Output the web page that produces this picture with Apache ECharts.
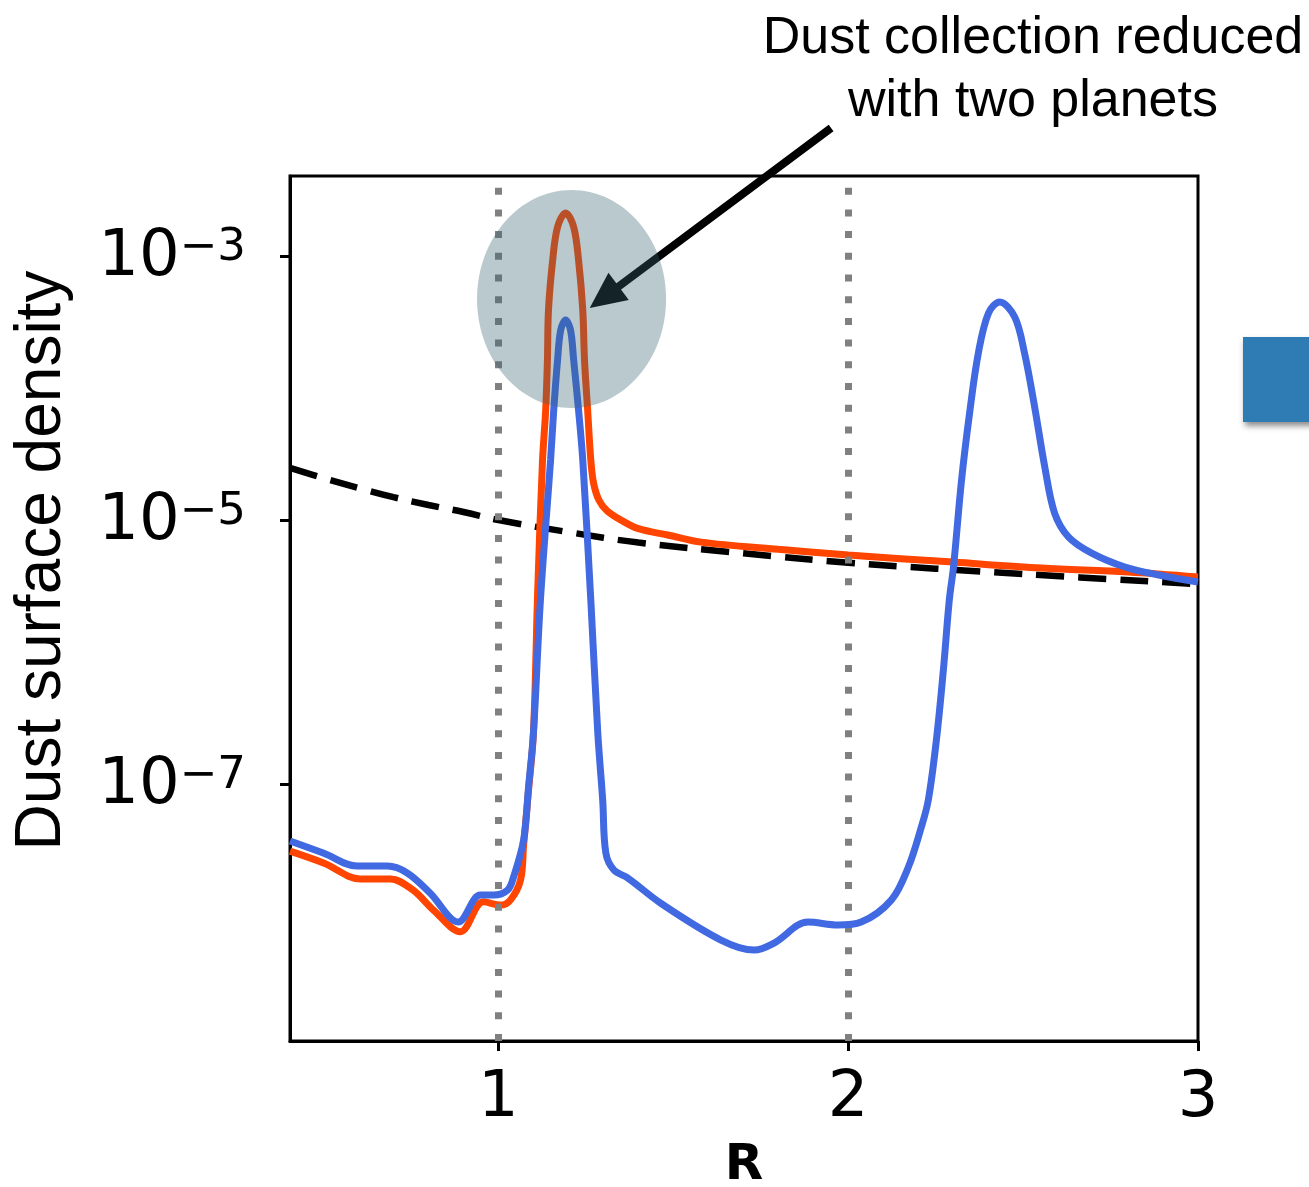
<!DOCTYPE html>
<html>
<head>
<meta charset="utf-8">
<script src="https://cdn.jsdelivr.net/npm/echarts@6/dist/echarts.min.js"></script>
<style>
  html, body { margin: 0; padding: 0; background: #ffffff; overflow: hidden; }
  #chart { width: 1309px; height: 1187px; }
</style>
</head>
<body>
<div id="chart"></div>
<script>
// ---- Data -----------------------------------------------------------------
// Dust surface density profiles versus radius R.

// Single planet at R = 1 (orange)
const onePlanetR = [0.404, 0.50, 0.605, 0.691, 0.756, 0.814, 0.891, 0.957, 1.006, 1.034,
  1.063, 1.072, 1.086, 1.100, 1.112, 1.126, 1.135, 1.140, 1.143, 1.155, 1.169, 1.192,
  1.215, 1.229, 1.241, 1.246, 1.255, 1.264, 1.272, 1.287, 1.310, 1.350, 1.400,
  1.484, 1.579, 1.80, 2.00, 2.30, 2.553, 2.80, 3.00];
const onePlanetSigma = [3.1e-8, 2.52e-8, 1.91e-8, 1.91e-8, 1.57e-8, 1.11e-8, 7.6e-9, 1.28e-8, 1.21e-8, 1.32e-8,
  1.87e-8, 3.45e-8, 9.0e-8, 2.43e-7, 2.8e-6, 2.85e-5, 6.8e-5, 1.63e-4, 3.9e-4, 9.3e-4, 1.66e-3, 2.12e-3,
  1.66e-3, 9.3e-4, 3.9e-4, 1.63e-4, 6.8e-5, 2.85e-5, 1.9e-5, 1.42e-5, 1.18e-5, 1.0e-5, 8.6e-6,
  7.7e-6, 6.8e-6, 6.0e-6, 5.43e-6, 4.8e-6, 4.33e-6, 4.04e-6, 3.7e-6];

// Two planets at R = 1 and R = 2 (blue)
const twoPlanetR = [0.404, 0.499, 0.596, 0.682, 0.739, 0.805, 0.885, 0.948, 0.986, 1.026,
  1.043, 1.072, 1.086, 1.100, 1.120, 1.149, 1.158, 1.169, 1.178, 1.192, 1.206, 1.215,
  1.229, 1.241, 1.264, 1.284, 1.298, 1.307, 1.330, 1.370, 1.464, 1.636, 1.731, 1.788,
  1.885, 1.971, 2.037, 2.123, 2.172, 2.209, 2.229, 2.252, 2.272, 2.289, 2.301, 2.324,
  2.347, 2.372, 2.401, 2.433, 2.476, 2.504, 2.533, 2.562, 2.590, 2.630, 2.696, 2.791,
  2.888, 3.00];
const twoPlanetSigma = [3.7e-8, 3.0e-8, 2.39e-8, 2.39e-8, 2.12e-8, 1.49e-8, 9.0e-9, 1.44e-8, 1.44e-8, 1.57e-8,
  1.97e-8, 3.77e-8, 9.5e-8, 2.43e-7, 2.48e-6, 2.85e-5, 6.8e-5, 1.63e-4, 2.75e-4, 3.27e-4, 2.75e-4, 1.63e-4,
  6.8e-5, 2.85e-5, 2.48e-6, 2.43e-7, 7.57e-8, 3.0e-8, 2.23e-8, 1.94e-8, 1.25e-8, 6.58e-9, 5.52e-9, 6.24e-9,
  9.0e-9, 8.55e-9, 9.0e-9, 1.32e-8, 2.35e-8, 4.72e-8, 7.57e-8, 2.15e-7, 7.31e-7, 2.48e-6, 4.41e-6, 2.01e-5,
  6.47e-5, 1.84e-4, 3.70e-4, 4.49e-4, 3.45e-4, 1.84e-4, 7.18e-5, 2.52e-5, 1.13e-5, 7.43e-6, 5.62e-6, 4.41e-6,
  3.83e-6, 3.39e-6];

// Initial profile (black dashed)
const initialR = [0.404, 0.5, 0.6, 0.7, 0.8, 0.9, 1.0, 1.2, 1.4, 1.7, 2.0, 2.5, 3.0];
const initialSigma = [2.48e-5, 2.08e-5, 1.75e-5, 1.49e-5, 1.3e-5, 1.15e-5, 1.0e-5, 8.1e-6, 6.75e-6, 5.6e-6, 4.75e-6, 3.9e-6, 3.27e-6];

// Planet orbits (dotted verticals)
const planetOrbits = [1, 2];

// Axis ticks
const xTicks = [1, 2, 3];
const yTicks = [1e-7, 1e-5, 1e-3];

const xLabel = 'R';
const yLabel = 'Dust surface density';
const noteLines = ['Dust collection reduced', 'with two planets'];

// ---- Chart ----------------------------------------------------------------
const pairs = (xs, ys) => xs.map((x, i) => [x, ys[i]]);

const chart = echarts.init(document.getElementById('chart'), null, { renderer: 'canvas' });

const option = {
  animation: false,
  backgroundColor: '#ffffff',
  grid: {
    left: 290, right: 111, top: 176, bottom: 146,
    outerBoundsMode: 'none',
    containLabel: false,
    show: true, borderColor: '#000000', borderWidth: 3, backgroundColor: 'transparent'
  },
  xAxis: {
    type: 'value',
    min: 0.404, max: 3.0,
    name: xLabel,
    nameLocation: 'middle',
    nameGap: 100,
    nameTextStyle: { fontFamily: 'DejaVu Sans', fontWeight: 'bold', fontSize: 50, color: '#000' },
    axisLine: { show: true, onZero: false, lineStyle: { color: '#000', width: 3 } },
    axisTick: { show: true, inside: false, length: 10, customValues: xTicks, lineStyle: { color: '#000', width: 3 } },
    axisLabel: { show: true, customValues: xTicks, margin: 26, fontFamily: 'DejaVu Sans', fontSize: 64, color: '#000',
      formatter: v => String(Math.round(v)) },
    splitLine: { show: false },
    minorTick: { show: false }
  },
  yAxis: {
    type: 'log',
    logBase: 10,
    min: 1.13e-9, max: 4.04e-3,
    name: yLabel,
    nameLocation: 'middle',
    nameRotate: 90,
    nameGap: 216,
    nameTextStyle: { fontFamily: 'Liberation Sans', fontSize: 64, color: '#000', padding: [0, 0, 0, 96] },
    axisLine: { show: true, onZero: false, lineStyle: { color: '#000', width: 3 } },
    axisTick: { show: true, inside: false, length: 10, customValues: yTicks, lineStyle: { color: '#000', width: 3 } },
    axisLabel: {
      show: true, customValues: yTicks, margin: 44, color: '#000',
      formatter: v => '{b|10}{s|\u2212' + Math.abs(Math.round(Math.log10(v))) + '}',
      rich: {
        b: { fontFamily: 'DejaVu Sans', fontSize: 64, lineHeight: 68, padding: [6, 0, 0, 0], verticalAlign: 'bottom', color: '#000' },
        s: { fontFamily: 'DejaVu Sans', fontSize: 45, lineHeight: 45, padding: [4, 0, 0, 0], verticalAlign: 'top', color: '#000' }
      }
    },
    splitLine: { show: false },
    minorTick: { show: false }
  },
  series: [
    {
      name: 'Initial',
      type: 'line',
      z: 2,
      data: pairs(initialR, initialSigma),
      showSymbol: false,
      smooth: 0.4,
      lineStyle: { color: '#000000', width: 6.5, type: [28, 14], cap: 'butt' }
    },
    {
      name: 'One planet',
      type: 'line',
      z: 3,
      data: pairs(onePlanetR, onePlanetSigma),
      showSymbol: false,
      smooth: 0.35,
      lineStyle: { color: '#ff4500', width: 7 }
    },
    {
      name: 'Planet orbits',
      type: 'line',
      z: 4,
      data: [],
      markLine: {
        silent: true,
        symbol: ['none', 'none'],
        label: { show: false },
        lineStyle: { color: '#808080', width: 7, type: [7, 14.7], cap: 'butt' },
        data: planetOrbits.map(r => ({ xAxis: r }))
      }
    },
    {
      name: 'Two planets',
      type: 'line',
      z: 5,
      data: pairs(twoPlanetR, twoPlanetSigma),
      showSymbol: false,
      smooth: 0.35,
      lineStyle: { color: '#4169e1', width: 7 }
    }
  ]
};

chart.setOption(option);

// Highlight ellipse and arrow are anchored in data space around the inner peak.
function buildAnnotations() {
  const toPx = p => chart.convertToPixel({ gridIndex: 0 }, p);
  const centre = toPx([1.209, 4.72e-4]);
  const tip = toPx([1.261, 4.04e-4]);
  const tail = toPx([1.951, 9.33e-3]);

  const dx = tip[0] - tail[0], dy = tip[1] - tail[1];
  const len = Math.hypot(dx, dy);
  const ux = dx / len, uy = dy / len;
  const headLen = 36, headHalf = 17;
  const base = [tip[0] - ux * headLen, tip[1] - uy * headLen];
  const nx = -uy, ny = ux;

  chart.setOption({
    graphic: [
      {
        type: 'line', z: 90, silent: true,
        shape: { x1: tail[0], y1: tail[1], x2: base[0] + ux * 4, y2: base[1] + uy * 4 },
        style: { stroke: '#000000', lineWidth: 8 }
      },
      {
        type: 'polygon', z: 91, silent: true,
        shape: { points: [tip, [base[0] + nx * headHalf, base[1] + ny * headHalf], [base[0] - nx * headHalf, base[1] - ny * headHalf]] },
        style: { fill: '#000000' }
      },
      {
        type: 'ellipse', z: 100, silent: true,
        shape: { cx: centre[0], cy: centre[1], rx: 94.5, ry: 109 },
        style: { fill: 'rgba(55, 100, 115, 0.35)' }
      },
      {
        type: 'text', z: 100, silent: true,
        style: { text: noteLines[0], x: 1033, y: 39, align: 'center', verticalAlign: 'middle',
          fontFamily: 'Liberation Sans', fontSize: 52, fill: '#000000' }
      },
      {
        type: 'text', z: 100, silent: true,
        style: { text: noteLines[1], x: 1033, y: 102, align: 'center', verticalAlign: 'middle',
          fontFamily: 'Liberation Sans', fontSize: 52, fill: '#000000' }
      },
      {
        type: 'rect', z: 100, silent: true,
        shape: { x: 1243, y: 337, width: 90, height: 85 },
        style: { fill: '#2f7cb4', shadowBlur: 6, shadowOffsetX: 2, shadowOffsetY: 4, shadowColor: 'rgba(0,0,0,0.45)' }
      }
    ]
  });
}
buildAnnotations();
</script>
</body>
</html>
